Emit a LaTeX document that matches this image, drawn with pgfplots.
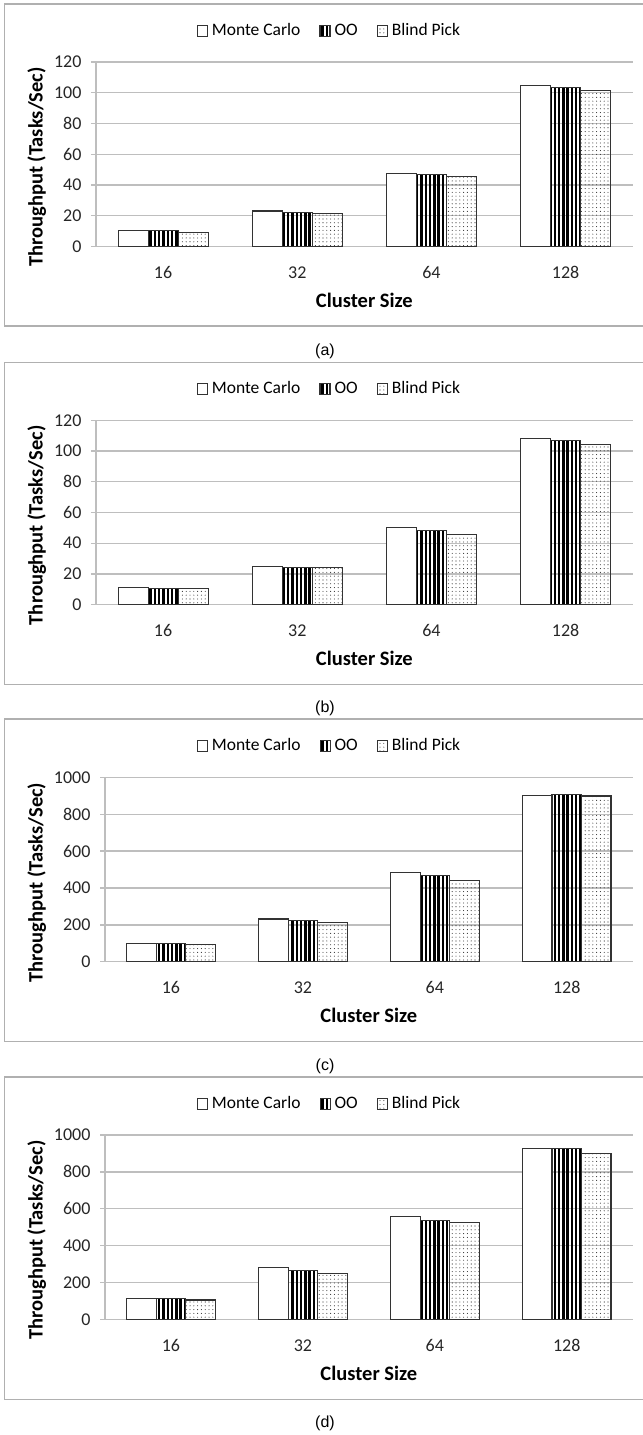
\documentclass[border=0pt]{standalone}
\usepackage{fontspec}
\setmainfont{Carlito}
\newfontfamily\arialfont{Liberation Sans}
\usepackage{pgfplots}
\pgfplotsset{compat=1.18}
\usetikzlibrary{patterns.meta}

\definecolor{gridgray}{HTML}{BEBEBE}
\definecolor{boxgray}{HTML}{B0B0B0}
\definecolor{edgegray}{HTML}{333333}

\pgfplotstableread{
x MC OO BP
0 10.0 10.0 9.0
1 23.0 22.3 21.3
2 47.5 46.8 45.2
3 104.8 103.2 101.4
}\dataA
\pgfplotstableread{
x MC OO BP
0 11.3 10.6 10.6
1 25.0 24.2 24.0
2 50.3 48.1 45.7
3 108.3 106.9 104.5
}\dataB
\pgfplotstableread{
x MC OO BP
0 101 101 92
1 232 226 213
2 486 469 443
3 904 905 899
}\dataC
\pgfplotstableread{
x MC OO BP
0 111 111 105
1 281 263 249
2 558 537 524
3 927 927 902
}\dataD

\newcommand{\tickfont}{\fontsize{18bp}{19bp}\selectfont}
\newcommand{\labfont}{\fontsize{20.5bp}{22bp}\selectfont\bfseries}

\pgfplotsset{
  panel/.style={
    scale only axis,
    height=184.3bp,
    xmin=-0.5, xmax=3.5, ymin=0,
    xtick={0,1,2,3}, xticklabels={16,32,64,128},
    axis lines*=left,
    axis line style={gridgray, line width=1.3bp, -},
    ymajorgrids,
    grid style={gridgray, line width=1.3bp},
    tick align=outside,
    major tick length=5bp,
    ytick style={gridgray, line width=1.3bp},
    xtick style={draw=none},
    /pgf/number format/assume math mode=true,
    /pgf/number format/1000 sep={},
    tick label style={font=\tickfont, text=black!85},
    yticklabel style={xshift=-6bp},
    xticklabel style={anchor=center, yshift=-21bp},
    xlabel={Cluster Size},
    ylabel={Throughput (Tasks/Sec)},
    xlabel style={font=\labfont, at={(axis description cs:0.5,-0.291)}, anchor=center},
    ybar,
    legend image code/.code={\draw[##1] (0bp,-5.5bp) rectangle (10bp,5.5bp);},
    legend columns=3,
    legend cell align=left,
    legend style={draw=none, fill=none, anchor=center,
      font=\fontsize{17.5bp}{18bp}\selectfont,
      /tikz/every odd column/.append style={column sep=3bp},
      /tikz/every even column/.append style={column sep=18bp},
      nodes={inner sep=1bp, text height=12bp, text depth=3bp}},
  },
  mc/.style={draw=edgegray, line width=1.1bp, fill=white},
  oo/.style={draw=edgegray, line width=1.1bp, fill=white,
    pattern={Lines[angle=90, distance=4.3bp, line width=2.4bp]}, pattern color=black},
  bp/.style={draw=edgegray, line width=1.1bp, fill=white,
    pattern={Dots[distance=3.8bp, radius=0.55bp]}, pattern color=black!80},
}

\begin{document}
\begin{tikzpicture}
\useasboundingbox (0,0) rectangle (643bp,-1435bp);

% ---------- (a)
\draw[boxgray, line width=1.2bp] (4.7bp,-4bp) rectangle (660bp,-326bp);
\begin{axis}[panel, at={(96bp,-246.3bp)}, anchor=south west, width=536.7bp,
  ymax=120, ytick={0,20,...,120}, bar width=30bp,
  ylabel style={font=\labfont, at={(axis description cs:-0.1105,0.43)}, anchor=center, rotate=0},
  legend style={at={(axis description cs:0.434,1.168)}}]
\addplot[mc, bar shift=-30bp] table[x=x, y=MC] {\dataA};
\addplot[oo, bar shift=0bp] table[x=x, y=OO] {\dataA};
\addplot[bp, bar shift=30bp] table[x=x, y=BP] {\dataA};
\legend{Monte Carlo, OO, Blind Pick}
\end{axis}
\node[font=\arialfont\fontsize{16bp}{18bp}\selectfont] at (325bp,-351.5bp) {(a)};

% ---------- (b)
\draw[boxgray, line width=1.2bp] (4.7bp,-362.3bp) rectangle (660bp,-684.5bp);
\begin{axis}[panel, at={(96bp,-604.6bp)}, anchor=south west, width=536.7bp,
  ymax=120, ytick={0,20,...,120}, bar width=30bp,
  ylabel style={font=\labfont, at={(axis description cs:-0.1105,0.43)}, anchor=center, rotate=0},
  legend style={at={(axis description cs:0.434,1.168)}}]
\addplot[mc, bar shift=-30bp] table[x=x, y=MC] {\dataB};
\addplot[oo, bar shift=0bp] table[x=x, y=OO] {\dataB};
\addplot[bp, bar shift=30bp] table[x=x, y=BP] {\dataB};
\legend{Monte Carlo, OO, Blind Pick}
\end{axis}
\node[font=\arialfont\fontsize{16bp}{18bp}\selectfont] at (325bp,-708bp) {(b)};

% ---------- (c)
\draw[boxgray, line width=1.2bp] (4.7bp,-719bp) rectangle (660bp,-1041.5bp);
\begin{axis}[panel, at={(105bp,-961.7bp)}, anchor=south west, width=527.7bp,
  ymax=1000, ytick={0,200,...,1000}, bar width=29.5bp,
  ylabel style={font=\labfont, at={(axis description cs:-0.1294,0.43)}, anchor=center, rotate=0},
  legend style={at={(axis description cs:0.4245,1.168)}}]
\addplot[mc, bar shift=-29.5bp] table[x=x, y=MC] {\dataC};
\addplot[oo, bar shift=0bp] table[x=x, y=OO] {\dataC};
\addplot[bp, bar shift=29.5bp] table[x=x, y=BP] {\dataC};
\legend{Monte Carlo, OO, Blind Pick}
\end{axis}
\node[font=\arialfont\fontsize{16bp}{18bp}\selectfont] at (325bp,-1066.5bp) {(c)};

% ---------- (d)
\draw[boxgray, line width=1.2bp] (4.7bp,-1077bp) rectangle (660bp,-1399.3bp);
\begin{axis}[panel, at={(105bp,-1319.3bp)}, anchor=south west, width=527.7bp,
  ymax=1000, ytick={0,200,...,1000}, bar width=29.5bp,
  ylabel style={font=\labfont, at={(axis description cs:-0.1294,0.43)}, anchor=center, rotate=0},
  legend style={at={(axis description cs:0.4245,1.168)}}]
\addplot[mc, bar shift=-29.5bp] table[x=x, y=MC] {\dataD};
\addplot[oo, bar shift=0bp] table[x=x, y=OO] {\dataD};
\addplot[bp, bar shift=29.5bp] table[x=x, y=BP] {\dataD};
\legend{Monte Carlo, OO, Blind Pick}
\end{axis}
\node[font=\arialfont\fontsize{16bp}{18bp}\selectfont] at (325bp,-1423bp) {(d)};

\end{tikzpicture}
\end{document}
